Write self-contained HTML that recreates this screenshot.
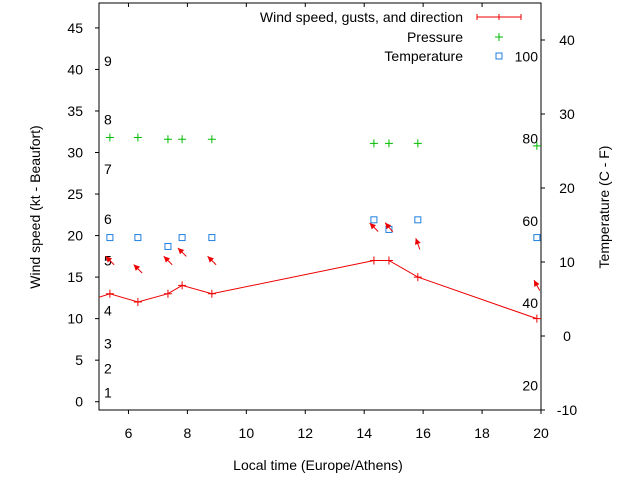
<!DOCTYPE html>
<html><head><meta charset="utf-8"><style>
body{margin:0;background:#fff}
svg{display:block;font-family:"Liberation Sans",sans-serif}
</style></head><body>
<svg id="chart" width="640" height="480" viewBox="0 0 640 480" xmlns="http://www.w3.org/2000/svg"></svg>
<script>
const times = [4.5, 5.37, 6.32, 7.34, 7.82, 8.83, 14.33, 14.84, 15.82, 19.86];
const windSpeed = [12, 13, 12, 13, 14, 13, 17, 17, 15, 10];
const gusts = [null, 17, 16, 17, 18, 17, 21, 21, 19, 14];
const windDir = [null, 135, 135, 135, 135, 135, 135, 140, 160, 151];
const pressure = [null, 31.8, 31.8, 31.6, 31.6, 31.6, 31.1, 31.1, 31.1, 30.8];
const temperature = [null, 13.3, 13.3, 12.1, 13.3, 13.3, 15.7, 14.4, 15.7, 13.3];
const xTicks = [6, 8, 10, 12, 14, 16, 18, 20];
const yTicks = [0, 5, 10, 15, 20, 25, 30, 35, 40, 45];
const y2Ticks = [-10, 0, 10, 20, 30, 40];
const beaufortLabels = ["1","2","3","4","5","6","7","8","9"];
const beaufortKt = [1.1, 4, 7, 11, 17, 22, 28, 34, 41];
const fahrenheit = [20, 40, 60, 80, 100];

const L=99,R=541,T=3,B=410;
const X=t=>L+(t-5)/15*(R-L);
const Y=v=>B-(v+1)/49*(B-T);
const Y2=c=>B-(c+10)/55*(B-T);
const svg=document.getElementById('chart');
const NS='http://www.w3.org/2000/svg';
function mk(tag,attrs,parent){const e=document.createElementNS(NS,tag);for(const k in attrs)e.setAttribute(k,attrs[k]);(parent||svg).appendChild(e);return e;}
function txt(s,x,y,anchor,parent,extra){const e=mk('text',Object.assign({x:x,y:y,'text-anchor':anchor,'font-size':14,fill:'#000'},extra||{}),parent);e.textContent=s;return e;}

const defs=mk('defs',{});
const cp=mk('clipPath',{id:'clip'},defs);
mk('rect',{x:L,y:T,width:R-L,height:B-T},cp);

const frame=mk('path',{d:`M${L} ${T}H${R}V${B}H${L}Z`,fill:'none',stroke:'#000','stroke-width':1});



const xg=mk('g',{});


xTicks.forEach(t=>{const x=X(t);mk('line',{x1:x,x2:x,y1:B,y2:B+4,stroke:'#000'},xg);mk('line',{x1:x,x2:x,y1:T,y2:T+4,stroke:'#000'},xg);
const l=txt(String(t),x,438,'middle',xg);});
const yg=mk('g',{});


yTicks.forEach(v=>{const y=Y(v);mk('line',{x1:L-4,x2:L,y1:y,y2:y,stroke:'#000'},yg);
const l=txt(String(v),83,y+5,'end',yg);});
const y2g=mk('g',{});


y2Ticks.forEach(v=>{const y=Y2(v);mk('line',{x1:R,x2:R+4,y1:y,y2:y,stroke:'#000'},y2g);
const l=txt(String(v),567,y+5,'middle',y2g);});

beaufortLabels.forEach((s,i)=>{const l=txt(s,104,Y(beaufortKt[i])+5,'start');});
fahrenheit.forEach(f=>{const c=(f-32)*5/9;const l=txt(String(f),538,Y2(c)+5,'end');});

const xt=txt('Local time (Europe/Athens)',318,470,'middle');


const yt=txt('Wind speed (kt - Beaufort)',0,0,'middle',svg,{transform:'translate(40,207) rotate(-90)'});


const y2t=txt('Temperature (C - F)',0,0,'middle',svg,{transform:'translate(609,207) rotate(-90)'});



const pg=mk('g',{'clip-path':'url(#clip)'});
const wl=mk('polyline',{points:times.map((t,i)=>X(t)+','+Y(windSpeed[i])).join(' '),fill:'none',stroke:'#e00','stroke-width':1},pg);


function plus(x,y,c,g){mk('path',{d:`M${x-4} ${y}H${x+4}M${x} ${y-4}V${y+4}`,stroke:c,'stroke-width':1},g);}
times.forEach((t,i)=>{
  const g=mk('g',{},pg);
  
  
  plus(X(t),Y(windSpeed[i]),'#e00',g);
  if(pressure[i]!=null){const pgp=mk('g',{},pg);
    
    
    plus(X(t),Y(pressure[i]),'#0b0',pgp);}
  if(temperature[i]!=null){const r=mk('rect',{x:X(t)-3,y:Y2(temperature[i])-3,width:6,height:6,fill:'none',stroke:'#1f7fdf','stroke-width':1},pg);
    
    }
  if(gusts[i]!=null){
    const a=windDir[i]*Math.PI/180;
    const cx=X(t),cy=Y(gusts[i]);
    const ux=-Math.sin(a), uy=Math.cos(a);
    const head=[cx+ux*6, cy+uy*6];
    const tail=[cx-ux*6, cy-uy*6];
    const ag=mk('g',{},pg);
    
    
    mk('line',{x1:tail[0],y1:tail[1],x2:head[0],y2:head[1],stroke:'#e00','stroke-width':1},ag);
    const px=-uy,py=ux;
    mk('polygon',{points:`${head[0]},${head[1]} ${head[0]-ux*6+px*3},${head[1]-uy*6+py*3} ${head[0]-ux*6-px*3},${head[1]-uy*6-py*3}`,fill:'#e00'},ag);
  }
});

const lg=mk('g',{});


txt('Wind speed, gusts, and direction',463,22,'end',lg,{'font-size':14});
mk('path',{d:'M477 17H521M477 14V20M521 14V20M499 14V20',stroke:'#e00',fill:'none'},lg);
txt('Pressure',463,42,'end',lg,{'font-size':14});
plus(499,37,'#0b0',lg);
txt('Temperature',463,61,'end',lg,{'font-size':14});
mk('rect',{x:496,y:53,width:6,height:6,fill:'none',stroke:'#1f7fdf'},lg);
</script>
</body></html>
